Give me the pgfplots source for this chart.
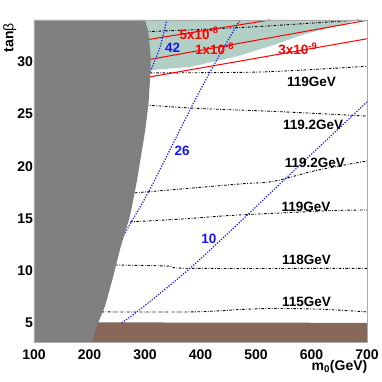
\documentclass[border=0pt]{standalone}
\usepackage{pgfplots}
\pgfplotsset{compat=1.18}
\usepackage{fontspec}
\setmainfont{Liberation Sans}

\definecolor{exclgray}{RGB}{128,128,128}
\definecolor{cdmteal}{RGB}{178,207,198}
\definecolor{lspbrown}{RGB}{135,103,88}
\definecolor{framegray}{RGB}{170,170,170}
\definecolor{cblue}{RGB}{20,20,240}

\newcommand\lab{\fontsize{13.5}{14}\selectfont\bfseries}

\pgfplotsset{
  hmass/.style={black, line width=0.9pt, dash pattern=on 2.5pt off 1.6pt on 0.7pt off 1.6pt},
  brline/.style={red, line width=1pt},
  amu/.style={cblue, line width=1.2pt, dash pattern=on 1.2pt off 1.5pt},
}

\begin{document}
\begin{tikzpicture}
\begin{axis}[
  scale only axis,
  width=333pt, height=322.7pt,
  xmin=100, xmax=700, ymin=3.1, ymax=34,
  xtick={100,200,...,700}, ytick={5,10,...,30},
  major tick length=0pt,
  axis on top,
  axis line style={framegray, line width=0.8pt},
  /pgf/number format/assume math mode=true,
  /pgf/number format/set thousands separator={},
  tick label style={font=\fontsize{14}{14}\selectfont\bfseries},
  xticklabel style={yshift=-4pt},
  yticklabel style={xshift=2.4pt},
]
% coloured regions
\addplot [draw=none, fill=cdmteal] coordinates {
  (280,29.2) (312,29.2) (381,29.5) (423,30.0) (471,30.6) (531,31.6)
  (591,32.7) (651,33.5) (681,34) (280,34)
} -- cycle;
\addplot [draw=none, fill=lspbrown] coordinates {
  (150,3.1) (700,3.1) (700,5.0) (150,5.05)
} -- cycle;

% Higgs mass contours
\addplot [hmass, smooth] coordinates {(290,32.85) (400,33.1) (513,33.4) (657,33.9) (690,34.0)};
\addplot [hmass, smooth] coordinates {(290,28.9) (309,28.93) (513,29.03) (700,29.57)};
\addplot [hmass, smooth] coordinates {(290,25.9) (393,25.54) (543,25.22) (700,24.8)};
\addplot [hmass, smooth] coordinates {(270,17.4) (339,17.7) (471,18.3) (531,18.55) (609,19.6) (700,20.5)};
\addplot [hmass, smooth] coordinates {(250,14.6) (369,14.95) (459,15.3) (639,15.75) (700,15.8)};
\addplot [hmass, smooth] coordinates {(235,10.55) (339,10.44) (381,10.22) (700,10.22)};
\addplot [hmass, smooth] coordinates {(210,6.05) (387,6.05) (480,6.3) (540,6.38) (620,6.3) (700,6.05)};

% branching ratio lines
\addplot [brline] coordinates {(300,32.08) (525,34)};
\addplot [brline] coordinates {(300,30.14) (700,33.97)};
\addplot [brline] coordinates {(300,28.47) (700,32.2)};

% muon g-2 contours
\addplot [amu, smooth] coordinates {(302,28.1) (306,28.6) (327,31.4) (339,34)};
\addplot [amu, smooth] coordinates {(245,11.8) (252,12.5) (273,14.45) (309,17.8) (387,26.0) (429,30.15) (471,34)};
\addplot [amu, smooth] coordinates {(258,5.0) (291,6.28) (381,10.22) (483,15.25) (549,18.6) (700,26.15)};

% excluded region
\addplot [draw=none, fill=exclgray] coordinates {
  (100,3.1) (204,3.1) (213,4.67) (228,6.6) (243,9.48) (255,12.05)
  (273,15.25) (285,18.45) (300,23.3) (306,25.8) (310,29.0) (310,30.6)
  (306,32.9) (300,34) (100,34)
} -- cycle;

% labels
\node [font=\lab] at (axis cs:600,28.09) {119GeV};
\node [font=\lab] at (axis cs:603,23.94) {119.2GeV};
\node [font=\lab] at (axis cs:606,20.33) {119.2GeV};
\node [font=\lab] at (axis cs:590,16.12) {119GeV};
\node [font=\lab] at (axis cs:591,11.0) {118GeV};
\node [font=\lab] at (axis cs:591,7.0) {115GeV};

\node [font=\lab, red, anchor=base west, inner sep=0pt] at (axis cs:362,32.16) {5x10\textsuperscript{-8}};
\node [font=\lab, red, anchor=base west, inner sep=0pt] at (axis cs:390,30.66) {1x10\textsuperscript{-8}};
\node [font=\lab, red, anchor=base west, inner sep=0pt] at (axis cs:540,30.66) {3x10\textsuperscript{-9}};

\node [font=\lab, cblue] at (axis cs:350,31.35) {42};
\node [font=\lab, cblue] at (axis cs:367,21.48) {26};
\node [font=\lab, cblue] at (axis cs:415,13.09) {10};
\end{axis}

\node [rotate=90, anchor=north east, inner sep=0pt, font=\fontsize{14}{14}\selectfont\bfseries]
  at ([shift={(-31pt,-3pt)}]current axis.north west) {tan{\mdseries β}};
\node [anchor=base east, inner sep=0pt, font=\fontsize{14}{14}\selectfont\bfseries]
  at ([shift={(0.5pt,-27.5pt)}]current axis.south east) {m\textsubscript{0}(GeV)};

\path ([shift={(-34pt,-39.3pt)}]current axis.south west) rectangle ++(382pt,382pt);
\end{tikzpicture}
\end{document}
